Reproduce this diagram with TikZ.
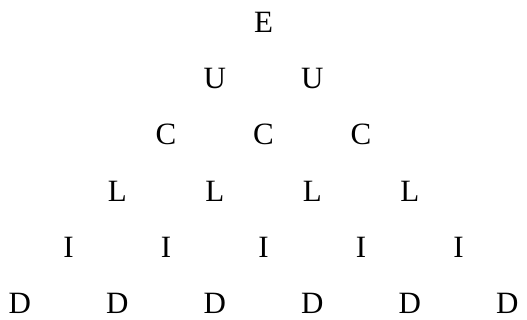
\documentclass[tikz,border=0pt]{standalone}
\usepackage{fontspec}
\setmainfont{Liberation Serif}
\tikzset{
  letter/.style={
    anchor=base,
    inner sep=0pt,
    font=\fontsize{31}{38}\selectfont
  }
}
\begin{document}
\begin{tikzpicture}[x=1pt, y=-1pt]
  \useasboundingbox (0,0) rectangle (527,320);
  % one row per letter, widening by one each row
  \foreach \lab [count=\row from 0] in {E,U,C,L,I,D} {
    \foreach \k in {0,...,\row} {
      \node[letter] (\lab-\k) at ({263.5 + (\k - \row/2)*97.5}, {32.5 + \row*56.2}) {\lab};
    }
  }
\end{tikzpicture}
\end{document}
